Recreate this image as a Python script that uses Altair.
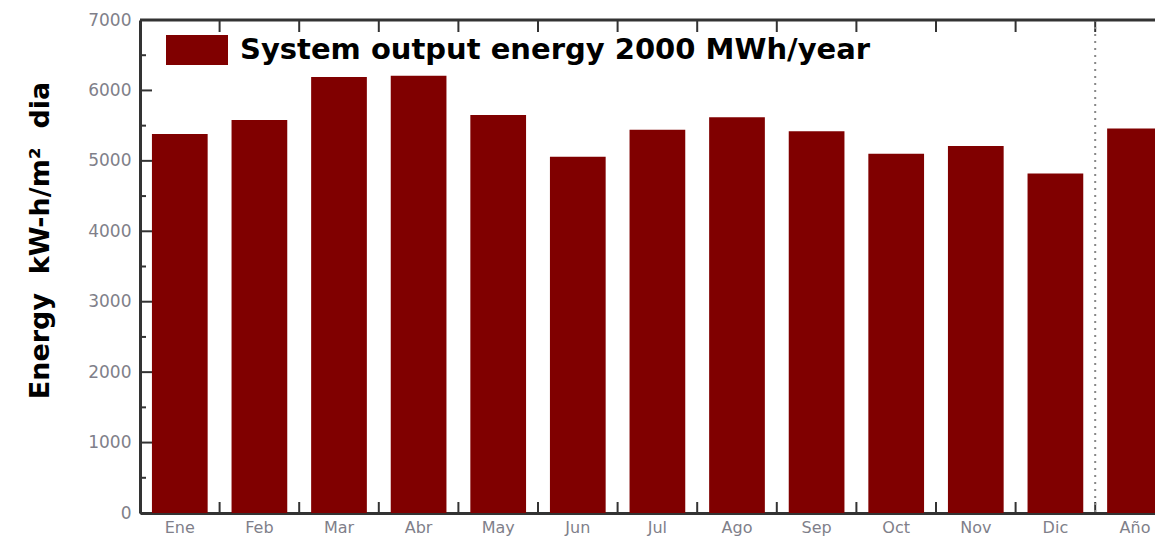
import altair as alt
import pandas as pd

months = ["Ene", "Feb", "Mar", "Abr", "May", "Jun", "Jul", "Ago", "Sep", "Oct", "Nov", "Dic", "Año"]
energy = [5380, 5580, 6190, 6210, 5650, 5060, 5440, 5620, 5420, 5100, 5210, 4820, 5460]
series_label = "System output energy 2000 MWh/year"
y_major = [0, 1000, 2000, 3000, 4000, 5000, 6000, 7000]
y_minor = [500, 1500, 2500, 3500, 4500, 5500, 6500]
y_title = "Energy \u00a0kW-h/m² \u00a0dia"

W = 1015
H = 493
STEP = 79.6
GAP_OFF = -0.15 * STEP
BAR = "#800000"
AX = "#333333"
LBL = "#7f7f8a"

bars_df = pd.DataFrame({"month": months, "value": energy, "series": series_label})
bnd_df = pd.DataFrame({"month": months[1:]})
sep_df = pd.DataFrame({"month": ["Año"]})
ymaj_df = pd.DataFrame({"value": y_major})
ymin_df = pd.DataFrame({"value": y_minor})

x_scale = alt.Scale(domain=months, range=[0, STEP * 13], paddingInner=0.3, paddingOuter=0.15)
y_scale = alt.Scale(domain=[0, 7000], nice=False, zero=True)

x_axis = alt.Axis(title=None, labelFont="DejaVu Sans", labelFontSize=16, labelColor=LBL,
                  labelPadding=6, ticks=False, domainColor=AX, domainWidth=3, labelAngle=0)
y_axis = alt.Axis(values=y_major, format="d", title=y_title, titleFont="DejaVu Sans",
                  titleFontSize=27, titleFontWeight="bold", titleColor="black", titleAngle=270,
                  titleX=-100, titleY=220, titleAlign="center", titleBaseline="middle",
                  labelFont="DejaVu Sans", labelFontSize=17, labelColor=LBL, labelPadding=9,
                  ticks=False, domainColor=AX, domainWidth=3, grid=False)

bars = alt.Chart(bars_df).mark_bar(clip=True).encode(
    x=alt.X("month:N", scale=x_scale, axis=x_axis, sort=months),
    y=alt.Y("value:Q", scale=y_scale, axis=y_axis),
    color=alt.Color("series:N", scale=alt.Scale(domain=[series_label], range=[BAR]),
                    legend=alt.Legend(orient="none", legendX=26, legendY=-1, title=None,
                                      symbolType="M-1,-0.48H1V0.48H-1Z", symbolSize=3844,
                                      symbolStrokeWidth=0, symbolOpacity=1,
                                      labelFontSize=29, labelFont="DejaVu Sans",
                                      labelFontWeight="bold", labelColor="black",
                                      labelOffset=12, padding=0, labelLimit=0)),
)

top_ticks = alt.Chart(bnd_df).mark_rule(color=AX, strokeWidth=2, xOffset=GAP_OFF).encode(
    x=alt.X("month:N", scale=x_scale, bandPosition=0),
    y=alt.value(0), y2=alt.value(12),
)
bot_ticks = alt.Chart(bnd_df).mark_rule(color=AX, strokeWidth=2, xOffset=GAP_OFF).encode(
    x=alt.X("month:N", scale=x_scale, bandPosition=0),
    y=alt.value(H - 11), y2=alt.value(H),
)
sep = alt.Chart(sep_df).mark_rule(color="#888888", strokeWidth=2, strokeDash=[2, 5],
                                  xOffset=GAP_OFF).encode(
    x=alt.X("month:N", scale=x_scale, bandPosition=0),
    y=alt.value(0), y2=alt.value(H),
)
ymaj = alt.Chart(ymaj_df).mark_rule(color=AX, strokeWidth=2).encode(
    y=alt.Y("value:Q", scale=y_scale), x=alt.value(0), x2=alt.value(12),
)
ymin = alt.Chart(ymin_df).mark_rule(color=AX, strokeWidth=2).encode(
    y=alt.Y("value:Q", scale=y_scale), x=alt.value(0), x2=alt.value(6),
)
top_line = alt.Chart(sep_df).mark_rule(color=AX, strokeWidth=3).encode(
    x=alt.value(0), x2=alt.value(W), y=alt.value(0),
)

chart = alt.layer(bars, top_ticks, bot_ticks, sep, ymaj, ymin, top_line).properties(
    width=W, height=H,
    autosize=alt.AutoSizeParams(type="none"),
    padding={"left": 132, "top": 12, "right": 0, "bottom": 28},
).configure_view(stroke=None).configure(background="white")

chart.save("out.html", embed_options={"renderer": "svg", "actions": False})
